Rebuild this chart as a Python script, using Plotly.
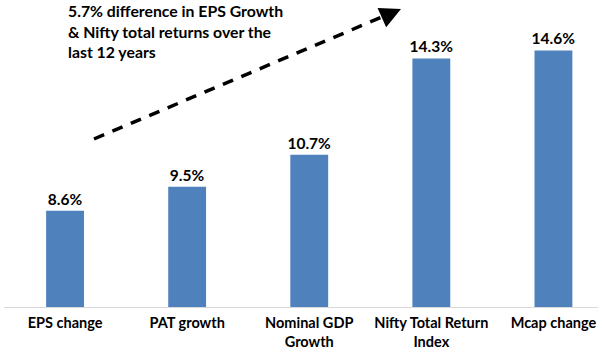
import plotly.graph_objects as go

categories = ["EPS change", "PAT growth", "Nominal GDP<br>Growth", "Nifty Total Return<br>Index", "Mcap change"]
values = [8.6, 9.5, 10.7, 14.3, 14.6]
value_labels = ["8.6%", "9.5%", "10.7%", "14.3%", "14.6%"]
note_text = "5.7% difference in EPS Growth<br>& Nifty total returns over the<br>last 12 years"

FONT = "Lato"
BAR = "#4F81BD"

fig = go.Figure()
fig.add_trace(go.Bar(
    x=list(range(len(categories))), y=values, base=0,
    marker=dict(color=BAR, line=dict(width=0)),
    width=0.31,
    text=value_labels, textposition="outside", cliponaxis=False,
    constraintext="none",
    textfont=dict(family=FONT, size=15.5, color="black", weight="bold"),
))

fig.update_layout(
    width=602, height=353,
    margin=dict(l=4, r=4, t=13, b=46),
    paper_bgcolor="white", plot_bgcolor="white",
    showlegend=False,
    font=dict(family=FONT, size=14, color="black"),
    xaxis=dict(
        range=[-0.5, 4.365], tickmode="array",
        tickvals=list(range(len(categories))), ticktext=categories,
        tickfont=dict(family=FONT, size=14.5, color="black", weight="bold"),
        showline=True, linecolor="#D9D9D9", linewidth=1,
        ticks="", ticklabelstandoff=3, showgrid=False, zeroline=False,
    ),
    yaxis=dict(range=[5, 16], visible=False, showgrid=False, zeroline=False),
)

# dashed arrow
fig.add_shape(type="line", xref="paper", yref="paper",
              x0=(94 - 4) / 594, y0=(307 - 139) / 294,
              x1=(389 - 4) / 594, y1=(307 - 14) / 294,
              line=dict(color="black", width=3.5, dash="11px,9px"))
fig.add_annotation(xref="paper", yref="paper",
                   x=(401 - 4) / 594, y=(307 - 9) / 294,
                   ax=-20, ay=9,
                   text="", showarrow=True, arrowhead=2, arrowsize=1.2,
                   arrowwidth=3.5, arrowcolor="black")

fig.add_annotation(xref="paper", yref="paper",
                   x=(66 - 4) / 594, y=(307 + 1) / 294,
                   xanchor="left", yanchor="top", align="left",
                   text=note_text, showarrow=False,
                   font=dict(family=FONT, size=15.8, color="black", weight="bold"))

fig.write_html("out.html")
